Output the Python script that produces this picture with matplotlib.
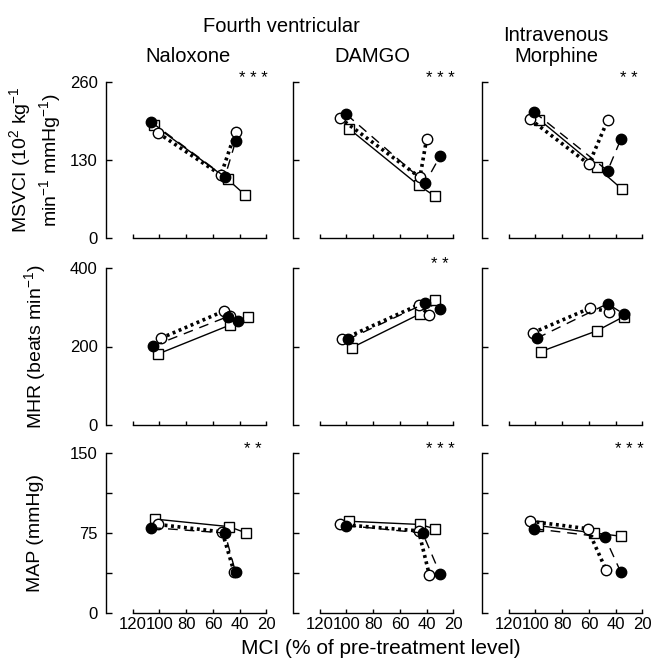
import matplotlib.pyplot as plt

plt.rcParams['font.family'] = ['Liberation Sans', 'DejaVu Sans']
plt.rcParams['mathtext.default'] = 'regular'

# MCI (% of pre-treatment level) and responses, per column:
# Naloxone (4th vent.), DAMGO (4th vent.), Intravenous Morphine
columns = ['Naloxone', 'DAMGO', 'Intravenous\nMorphine']

# MSVCI
msvci_filled_x = [[106, 51, 43], [100, 41, 30], [101, 46, 36]]
msvci_filled_y = [[193, 102, 161], [206, 92, 136], [210, 112, 165]]
msvci_open_x = [[101, 54, 43], [105, 45, 40], [104, 60, 46]]
msvci_open_y = [[175, 105, 177], [200, 101, 165], [198, 123, 196]]
msvci_square_x = [[104, 49, 36], [98, 46, 34], [97, 54, 35]]
msvci_square_y = [[188, 98, 72], [182, 88, 70], [197, 118, 81]]

# MHR
mhr_filled_x = [[105, 49, 41], [99, 41, 30], [99, 46, 34]]
mhr_filled_y = [[201, 276, 265], [218, 310, 295], [221, 309, 283]]
mhr_open_x = [[99, 52, 47], [103, 46, 38], [102, 59, 45]]
mhr_open_y = [[221, 290, 278], [218, 306, 280], [235, 298, 289]]
mhr_square_x = [[101, 47, 34], [96, 45, 34], [96, 54, 34]]
mhr_square_y = [[181, 255, 274], [197, 283, 318], [187, 240, 276]]

# MAP
map_filled_x = [[106, 51, 43], [100, 43, 30], [101, 48, 36]]
map_filled_y = [[80, 75, 38], [82, 75, 37], [79, 71, 38]]
map_open_x = [[101, 53, 44], [105, 46, 38], [104, 61, 47]]
map_open_y = [[83, 76, 38], [83, 77, 36], [86, 79, 40]]
map_square_x = [[103, 48, 35], [98, 45, 34], [98, 56, 36]]
map_square_y = [[88, 81, 75], [86, 83, 79], [82, 75, 72]]

stars = [['***', '***', '**'], ['', '**', ''], ['**', '***', '***']]

y_max = [260, 400, 150]
y_labels = ['MSVCI (10$^2$ kg$^{-1}$\nmin$^{-1}$ mmHg$^{-1}$)',
            'MHR (beats min$^{-1}$)', 'MAP (mmHg)']
x_ticks = [120, 100, 80, 60, 40, 20]

rows = [
    (msvci_filled_x, msvci_filled_y, msvci_open_x, msvci_open_y, msvci_square_x, msvci_square_y),
    (mhr_filled_x, mhr_filled_y, mhr_open_x, mhr_open_y, mhr_square_x, mhr_square_y),
    (map_filled_x, map_filled_y, map_open_x, map_open_y, map_square_x, map_square_y),
]

W, H = 664, 660
fig = plt.figure(figsize=(W / 100, H / 100), dpi=100)

col_left = [106, 293, 482]
row_top = [82, 268, 453]
row_bot = [238, 425, 613]
ax_w = 167

for r in range(3):
    fx, fy, ox, oy, sx, sy = rows[r]
    for c in range(3):
        ax = fig.add_axes([col_left[c] / W, 1 - row_bot[r] / H,
                           ax_w / W, (row_bot[r] - row_top[r]) / H])
        ax.set_xlim(140, 15)
        ax.set_ylim(0, y_max[r])
        ax.patch.set_alpha(0)

        ax.plot(sx[c], sy[c], '-', color='black', lw=1.0, marker='s', ms=7,
                mfc='white', mec='black', mew=1.0, zorder=3)
        ax.plot(ox[c], oy[c], color='black', lw=2.6, ls=(0, (0.8, 1.0)), marker='o',
                ms=7.5, mfc='white', mec='black', mew=1.0, zorder=4)
        ax.plot(fx[c], fy[c], color='black', lw=1.0, ls=(0, (7, 5)), marker='o',
                ms=7.5, mfc='black', mec='black', zorder=5)

        for s in ['top', 'right']:
            ax.spines[s].set_visible(False)
        ax.spines['left'].set_bounds(0, y_max[r])
        ax.spines['bottom'].set_bounds(20, 120)
        for s in ['left', 'bottom']:
            ax.spines[s].set_linewidth(1.0)

        ax.set_xticks(x_ticks)
        ax.set_yticks([0, y_max[r] / 2, y_max[r]])
        if r == 2:
            ax.set_yticks([y_max[r] / 4, y_max[r] * 3 / 4], minor=True)
        ax.tick_params(axis='y', which='both', direction='in', length=4, width=1,
                       labelsize=12, pad=6)
        ax.tick_params(axis='x', direction='in', length=3, width=1,
                       labelsize=12, pad=3)
        if c == 0:
            ax.set_yticklabels([str(v) for v in [0, int(y_max[r] / 2), y_max[r]]])
        else:
            ax.set_yticklabels([])
        if r != 2:
            ax.set_xticklabels([])

        if stars[r][c]:
            ax.text(0.88, 1.02, ' '.join(stars[r][c]), transform=ax.transAxes,
                    ha='center', va='center', fontsize=12)

    fig.text(35 / W, 1 - (row_top[r] + row_bot[r]) / 2 / H, y_labels[r],
             rotation=90, ha='center', va='center', multialignment='center',
             fontsize=14)

fig.text(281 / W, 1 - 27 / H, 'Fourth ventricular', ha='center', va='center', fontsize=14.5)
fig.text(188 / W, 1 - 57 / H, columns[0], ha='center', va='center', fontsize=14.5)
fig.text(372 / W, 1 - 57 / H, columns[1], ha='center', va='center', fontsize=14.5)
fig.text(556 / W, 1 - 46 / H, columns[2], ha='center', va='center', fontsize=14.5,
         linespacing=1.15)
fig.text(381 / W, 1 - 648 / H, 'MCI (% of pre-treatment level)', ha='center',
         va='center', fontsize=15)

fig.savefig('out.png', dpi=100)
